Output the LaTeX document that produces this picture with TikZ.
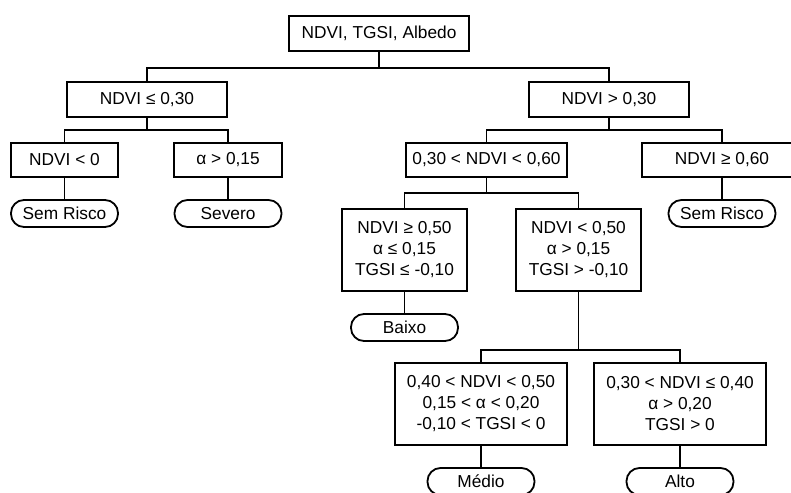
\documentclass[tikz,border=0pt]{standalone}
\usepackage{fontspec}
\setmainfont{Liberation Sans}
\begin{document}
\begin{tikzpicture}[x=1pt,y=-1pt,
  every node/.style={font=\fontsize{17.3}{21}\selectfont, align=center, inner sep=0pt},
  box/.style={draw, line width=1.8pt, rectangle},
  term/.style={draw, line width=1.8pt, rectangle, rounded corners=13pt, minimum width=107pt, minimum height=27pt},
  conn/.style={line width=1.8pt}
]
\useasboundingbox (0,0) rectangle (791,492);
\node[box, minimum width=180pt, minimum height=35pt] (top) at (379,33.5) {NDVI, TGSI, Albedo};
\node[box, minimum width=160pt, minimum height=35pt] (L1) at (147,99.5) {NDVI ≤ 0,30};
\node[box, minimum width=160pt, minimum height=35pt] (R1) at (609,99.5) {NDVI > 0,30};
\node[box, minimum width=107pt, minimum height=34pt] (n0) at (64.5,160) {NDVI < 0};
\node[box, minimum width=108pt, minimum height=34pt] (a15) at (228,160) {α > 0,15};
\node[term] (sr1) at (64.5,213.5) {Sem Risco};
\node[term] (sev) at (228,213.5) {Severo};
\node[box, minimum width=161pt, minimum height=34pt] (mid) at (486.5,160) {0,30 < NDVI < 0,60};
\node[box, minimum width=160pt, minimum height=34pt] (hi) at (722,160) {NDVI ≥ 0,60};
\node[term] (sr2) at (722,213.5) {Sem Risco};
\node[box, minimum width=125pt, minimum height=82pt] (b1) at (404.5,250) {NDVI ≥ 0,50\\α ≤ 0,15\\TGSI ≤ -0,10};
\node[box, minimum width=125pt, minimum height=82pt] (b2) at (578.5,250) {NDVI < 0,50\\α > 0,15\\TGSI > -0,10};
\node[term] (baixo) at (404.5,327.5) {Baixo};
\node[box, minimum width=172pt, minimum height=82pt] (c1) at (481,404) {0,40 < NDVI < 0,50\\0,15 < α < 0,20\\-0,10 < TGSI < 0};
\node[box, minimum width=172pt, minimum height=82pt] (c2) at (680,404) {0,30 < NDVI ≤ 0,40\\α > 0,20\\TGSI > 0};
\node[term] (medio) at (481,481.5) {Médio};
\node[term] (alto) at (680,481.5) {Alto};
\draw[conn] (top.south) -- ++(0,16) -| (L1.north);
\draw[conn] (top.south) -- ++(0,16) -| (R1.north);
\draw[conn] (L1.south) -- ++(0,12) -| (n0.north);
\draw[conn] (L1.south) -- ++(0,12) -| (a15.north);
\draw[conn] (n0.south) -- (sr1.north);
\draw[conn] (a15.south) -- (sev.north);
\draw[conn] (R1.south) -- ++(0,12) -| (mid.north);
\draw[conn] (R1.south) -- ++(0,12) -| (hi.north);
\draw[conn] (hi.south) -- (sr2.north);
\draw[conn] (mid.south) -- ++(0,15) -| (b1.north);
\draw[conn] (mid.south) -- ++(0,15) -| (b2.north);
\draw[conn] (b1.south) -- (baixo.north);
\draw[conn] (b2.south) -- ++(0,58) -| (c1.north);
\draw[conn] (b2.south) -- ++(0,58) -| (c2.north);
\draw[conn] (c1.south) -- (medio.north);
\draw[conn] (c2.south) -- (alto.north);
\end{tikzpicture}
\end{document}
